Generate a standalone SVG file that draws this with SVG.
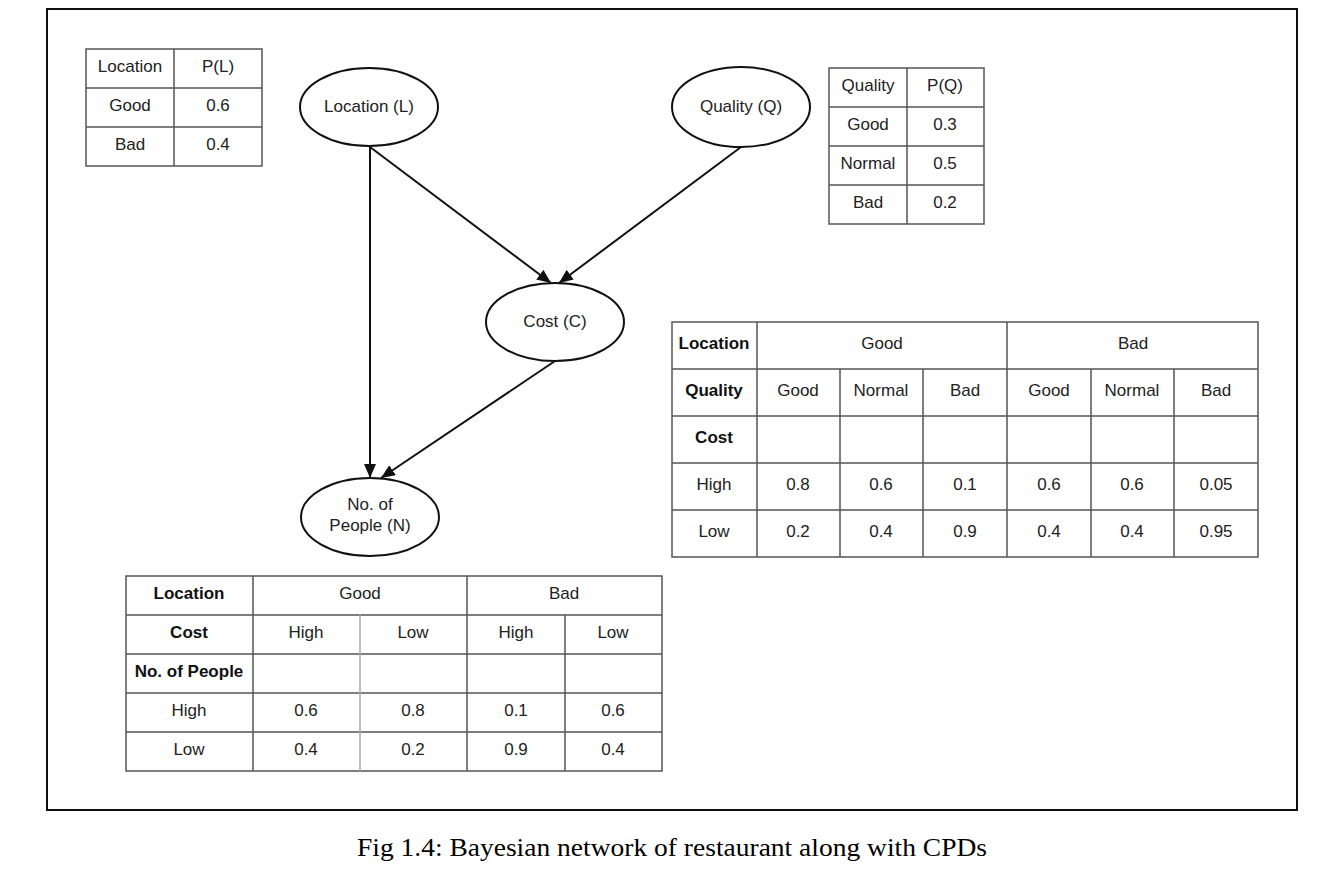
<svg xmlns="http://www.w3.org/2000/svg" width="1328" height="870" viewBox="0 0 1328 870">
<style>
text{font-family:"Liberation Sans",Arial,sans-serif;font-size:17px;fill:#222;text-anchor:middle}
.b{font-weight:bold;fill:#111}
.grid{fill:none;stroke:#555;stroke-width:1.5}
.lite{stroke:#aaa;stroke-width:1.5}
.node{fill:#fff;stroke:#111;stroke-width:2}
.edge{stroke:#111;stroke-width:2;fill:none;marker-end:url(#ah)}
.cap{font-family:"Liberation Serif","Times New Roman",serif;font-size:25px;fill:#000}
</style>
<defs>
<marker id="ah" viewBox="0 0 14 12" refX="14" refY="6" markerWidth="14" markerHeight="12" markerUnits="userSpaceOnUse" orient="auto">
<path d="M0,0 L14,6 L0,12 Z" fill="#111"/>
</marker>
</defs>
<rect width="1328" height="870" fill="#fff"/>
<rect x="47" y="9" width="1250" height="801" fill="none" stroke="#111" stroke-width="2"/>

<g id="table-L">
<rect class="grid" x="86" y="49" width="176" height="117"/>
<path class="grid" d="M174,49V166M86,88H262M86,127H262"/>
<text x="130" y="72">Location</text><text x="218" y="72">P(L)</text>
<text x="130" y="111">Good</text><text x="218" y="111">0.6</text>
<text x="130" y="150">Bad</text><text x="218" y="150">0.4</text>
</g>

<g id="table-Q">
<rect class="grid" x="829" y="68" width="155" height="156"/>
<path class="grid" d="M907,68V224M829,107H984M829,146H984M829,185H984"/>
<text x="868" y="91">Quality</text><text x="945" y="91">P(Q)</text>
<text x="868" y="130">Good</text><text x="945" y="130">0.3</text>
<text x="868" y="169">Normal</text><text x="945" y="169">0.5</text>
<text x="868" y="208">Bad</text><text x="945" y="208">0.2</text>
</g>

<g id="connectors">
<line class="edge" x1="370" y1="147" x2="370" y2="478"/>
<line class="edge" x1="370" y1="147" x2="551" y2="283"/>
<line class="edge" x1="741" y1="147" x2="559" y2="283"/>
<line class="edge" x1="555" y1="361" x2="381" y2="478"/>
</g>

<g id="node-L"><ellipse class="node" cx="369" cy="107" rx="69" ry="39"/><text x="369" y="112">Location (L)</text></g>
<g id="node-Q"><ellipse class="node" cx="741" cy="107" rx="69" ry="40"/><text x="741" y="112">Quality (Q)</text></g>
<g id="node-C"><ellipse class="node" cx="555" cy="322" rx="69" ry="39"/><text x="555" y="327">Cost (C)</text></g>
<g id="node-N"><ellipse class="node" cx="370" cy="517" rx="69" ry="39"/><text x="370" y="510">No. of</text><text x="370" y="531">People (N)</text></g>

<g id="table-C">
<rect class="grid" x="672" y="322" width="586" height="235"/>
<path class="grid" d="M757,322V557M1007,322V557M840,369V557M923,369V557M1091,369V557M1174,369V557M672,369H1258M672,416H1258M672,463H1258M672,510H1258"/>
<text class="b" x="714" y="349">Location</text><text x="882" y="349">Good</text><text x="1133" y="349">Bad</text>
<text class="b" x="714" y="396">Quality</text><text x="798" y="396">Good</text><text x="881" y="396">Normal</text><text x="965" y="396">Bad</text><text x="1049" y="396">Good</text><text x="1132" y="396">Normal</text><text x="1216" y="396">Bad</text>
<text class="b" x="714" y="443">Cost</text>
<text x="714" y="490">High</text><text x="798" y="490">0.8</text><text x="881" y="490">0.6</text><text x="965" y="490">0.1</text><text x="1049" y="490">0.6</text><text x="1132" y="490">0.6</text><text x="1216" y="490">0.05</text>
<text x="714" y="537">Low</text><text x="798" y="537">0.2</text><text x="881" y="537">0.4</text><text x="965" y="537">0.9</text><text x="1049" y="537">0.4</text><text x="1132" y="537">0.4</text><text x="1216" y="537">0.95</text>
</g>

<g id="table-N">
<rect class="grid" x="126" y="576" width="536" height="195"/>
<path class="grid" d="M253,576V771M467,576V771M565,615V771M126,615H662M126,654H662M126,693H662M126,732H662"/>
<path class="lite" d="M360,615V771"/>
<text class="b" x="189" y="599">Location</text><text x="360" y="599">Good</text><text x="564" y="599">Bad</text>
<text class="b" x="189" y="638">Cost</text><text x="306" y="638">High</text><text x="413" y="638">Low</text><text x="516" y="638">High</text><text x="613" y="638">Low</text>
<text class="b" x="189" y="677">No. of People</text>
<text x="189" y="716">High</text><text x="306" y="716">0.6</text><text x="413" y="716">0.8</text><text x="516" y="716">0.1</text><text x="613" y="716">0.6</text>
<text x="189" y="755">Low</text><text x="306" y="755">0.4</text><text x="413" y="755">0.2</text><text x="516" y="755">0.9</text><text x="613" y="755">0.4</text>
</g>

<text class="cap" x="672" y="856" textLength="630" lengthAdjust="spacingAndGlyphs">Fig 1.4: Bayesian network of restaurant along with CPDs</text>
</svg>
